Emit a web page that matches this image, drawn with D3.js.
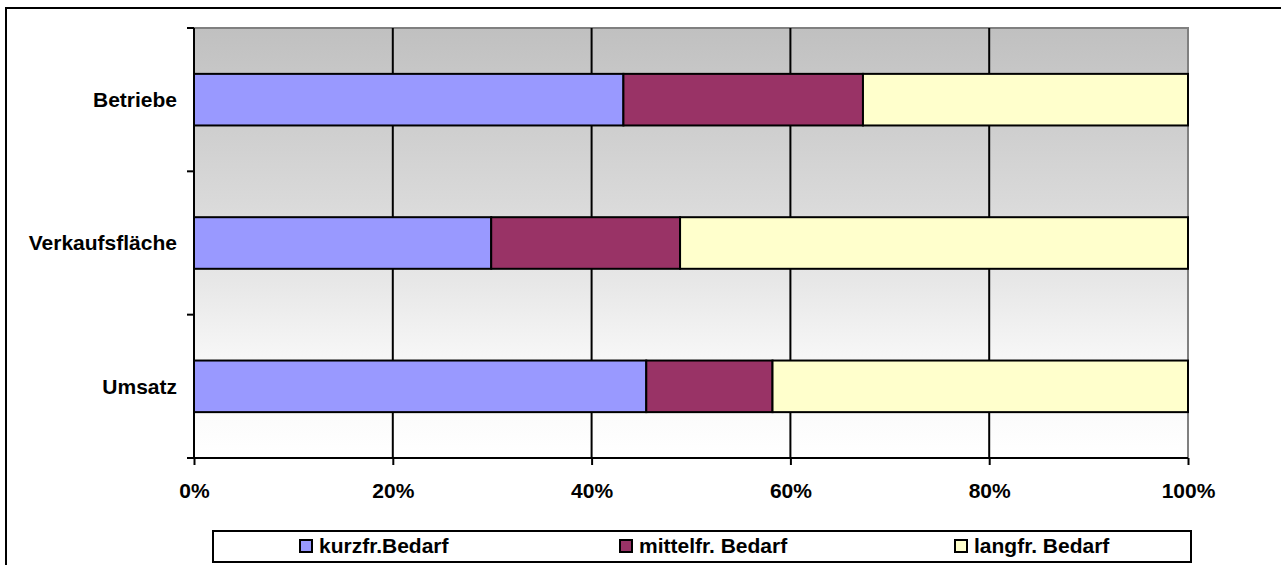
<!DOCTYPE html>
<html>
<head>
<meta charset="utf-8">
<script src="https://cdn.jsdelivr.net/npm/d3@7"></script>
<style>
  html, body { margin: 0; padding: 0; background: #fff; }
  svg { display: block; font-family: "Liberation Sans", Arial, sans-serif; font-weight: bold; }
</style>
</head>
<body>
<svg id="chart" width="1281" height="565"></svg>
<script>
// Shares of demand groups (percent) per indicator
const categories = ["Betriebe", "Verkaufsfläche", "Umsatz"];
const seriesNames = ["kurzfr.Bedarf", "mittelfr. Bedarf", "langfr. Bedarf"];
const kurzfr = [43.2, 29.9, 45.5];
const mittelfr = [24.1, 19.0, 12.7];
const langfr = [32.7, 51.1, 41.8];
const tickValues = [0, 20, 40, 60, 80, 100];
const tickLabels = ["0%", "20%", "40%", "60%", "80%", "100%"];
const colors = ["#9999FF", "#993366", "#FFFFCC"];

const svg = d3.select("#chart");
const plot = { left: 194, top: 28, right: 1188, bottom: 458 };
const fontSize = 21;

// outer chart frame
svg.append("rect").attr("x", 6).attr("y", 8).attr("width", 1290).attr("height", 600)
  .attr("fill", "#fff").attr("stroke", "#000").attr("stroke-width", 2);

const x = d3.scaleLinear().domain([0, 100]).range([plot.left, plot.right]);
const y = d3.scaleBand().domain(categories).range([plot.top, plot.bottom]).paddingInner(0.64).paddingOuter(0.32);
const yBand = d3.scaleBand().domain(categories).range([plot.top, plot.bottom]);

// plot area background gradient
const defs = svg.append("defs");
const grad = defs.append("linearGradient").attr("id", "bg").attr("x1", 0).attr("y1", 0).attr("x2", 0).attr("y2", 1);
[[0, "#c0c0c0"], [0.4, "#d9d9d9"], [0.6, "#e8e8e8"], [0.76, "#f6f6f6"], [1, "#ffffff"]]
  .forEach(([o, c]) => grad.append("stop").attr("offset", o).attr("stop-color", c));

svg.append("rect").attr("x", plot.left).attr("y", plot.top)
  .attr("width", plot.right - plot.left).attr("height", plot.bottom - plot.top)
  .attr("fill", "url(#bg)").attr("stroke", "#808080").attr("stroke-width", 2);

// vertical gridlines
svg.append("g").selectAll("line").data(tickValues.slice(1, -1)).join("line")
  .attr("x1", d => x(d)).attr("x2", d => x(d))
  .attr("y1", plot.top).attr("y2", plot.bottom)
  .attr("stroke", "#000").attr("stroke-width", 2);

// stacked bars
const stackData = categories.map((c, i) => ({ cat: c, k: kurzfr[i], m: mittelfr[i], l: langfr[i] }));
const stack = d3.stack().keys(["k", "m", "l"])(stackData);
svg.append("g").selectAll("g").data(stack).join("g")
  .attr("fill", (d, i) => colors[i])
  .selectAll("rect").data(d => d).join("rect")
  .attr("x", d => x(d[0])).attr("width", d => x(d[1]) - x(d[0]))
  .attr("y", d => y(d.data.cat)).attr("height", y.bandwidth())
  .attr("stroke", "#000").attr("stroke-width", 2);

// x axis
const xAxis = svg.append("g").attr("transform", `translate(0,${plot.bottom})`)
  .call(d3.axisBottom(x).tickValues(tickValues).tickFormat((d, i) => tickLabels[i]).tickSize(7).tickPadding(18));
xAxis.select(".domain").attr("stroke", "#000").attr("stroke-width", 2).attr("d", `M${plot.left},0H${plot.right}`);
xAxis.selectAll(".tick line").attr("stroke", "#000").attr("stroke-width", 2);
xAxis.selectAll("text").attr("font-size", fontSize).attr("font-weight", "bold").attr("fill", "#000")
  .attr("font-family", "Liberation Sans, Arial, sans-serif");

// y axis (ticks on category boundaries)
const yAxis = svg.append("g").attr("transform", `translate(${plot.left},0)`);
yAxis.append("line").attr("x1", 0).attr("x2", 0).attr("y1", plot.top).attr("y2", plot.bottom)
  .attr("stroke", "#000").attr("stroke-width", 2);
const boundaries = categories.map(c => yBand(c)).concat([plot.bottom]);
yAxis.selectAll("line.tk").data(boundaries).join("line").attr("class", "tk")
  .attr("x1", -7).attr("x2", 0).attr("y1", d => d).attr("y2", d => d)
  .attr("stroke", "#000").attr("stroke-width", 2);
yAxis.selectAll("text").data(categories).join("text")
  .attr("x", -17).attr("y", d => yBand(d) + yBand.bandwidth() / 2)
  .attr("dy", "0.35em").attr("text-anchor", "end")
  .attr("font-size", fontSize).attr("fill", "#000").text(d => d);

// legend
const legend = svg.append("g");
legend.append("rect").attr("x", 213).attr("y", 531).attr("width", 978).attr("height", 31)
  .attr("fill", "#fff").attr("stroke", "#000").attr("stroke-width", 2);
const legendX = [300, 620, 955];
const items = legend.selectAll("g").data(seriesNames).join("g")
  .attr("transform", (d, i) => `translate(${legendX[i]},546)`);
items.append("rect").attr("x", 0).attr("y", -6).attr("width", 12).attr("height", 12)
  .attr("fill", (d, i) => colors[i]).attr("stroke", "#000").attr("stroke-width", 2);
items.append("text").attr("x", 19).attr("dy", "0.35em").attr("font-size", fontSize).attr("fill", "#000").text(d => d);
</script>
</body>
</html>
